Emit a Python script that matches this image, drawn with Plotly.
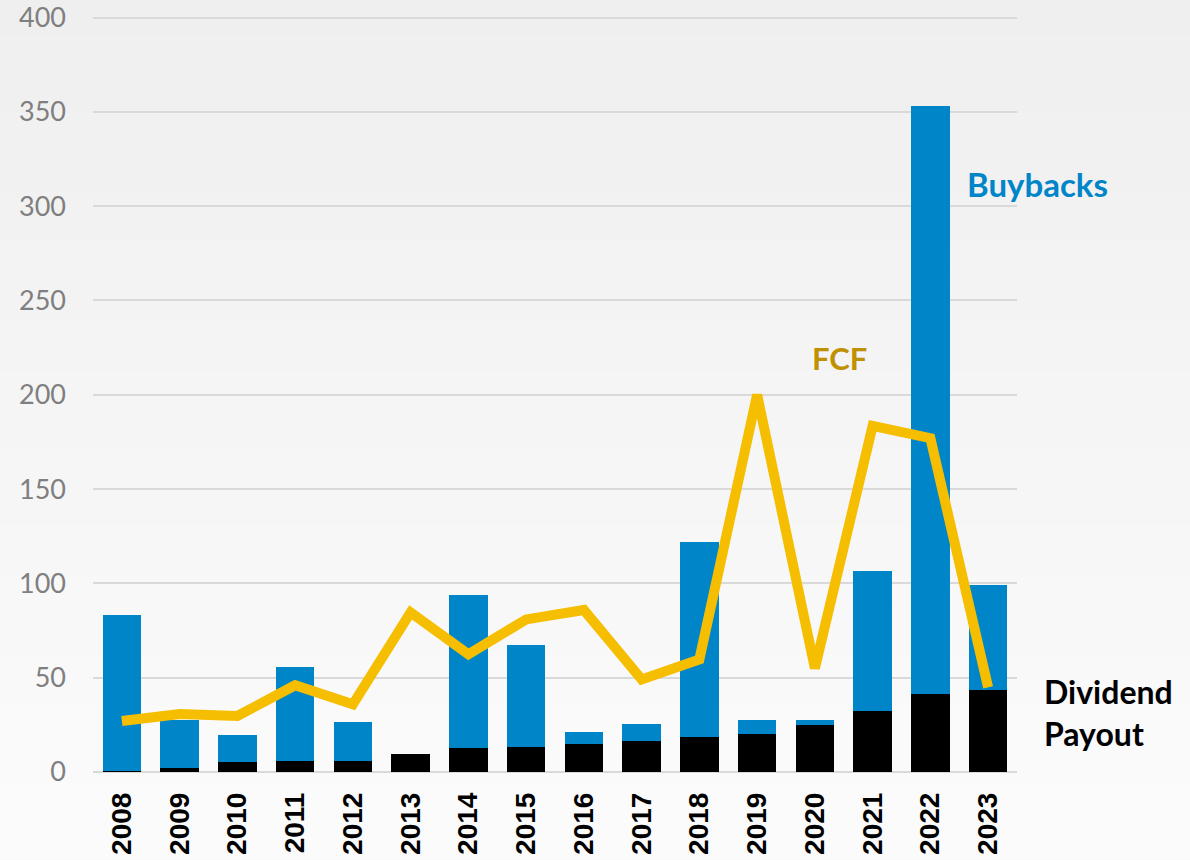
import plotly.graph_objects as go

# Annual cash returned to shareholders vs free cash flow
years = ["2008", "2009", "2010", "2011", "2012", "2013", "2014", "2015",
         "2016", "2017", "2018", "2019", "2020", "2021", "2022", "2023"]
dividends = [0.6, 2.3, 5.5, 5.7, 5.7, 9.4, 12.9, 13.5,
             14.9, 16.4, 18.5, 20.1, 24.7, 32.5, 41.2, 43.6]
buybacks = [82.4, 25.3, 13.9, 49.9, 20.6, 0.0, 81.1, 53.8,
            6.3, 9.2, 103.4, 7.5, 2.9, 74.0, 311.8, 55.5]
fcf = [27.0, 30.7, 29.7, 46.0, 35.9, 84.6, 62.4, 80.9,
       85.9, 49.1, 59.7, 200.0, 55.0, 183.5, 177.0, 44.9]

y_ticks = [0, 50, 100, 150, 200, 250, 300, 350, 400]

BLUE = "#0085c8"
GOLD = "#f6be00"
FCF_TEXT = "#bf9000"
GRID = "#d9d9d9"

fig = go.Figure()
fig.add_trace(go.Bar(x=years, y=dividends, name="Dividend Payout",
                     marker=dict(color="#000000", line=dict(width=0))))
fig.add_trace(go.Bar(x=years, y=buybacks, name="Buybacks",
                     marker=dict(color=BLUE, line=dict(width=0))))
fig.add_trace(go.Scatter(x=years, y=fcf, name="FCF", mode="lines",
                         line=dict(color=GOLD, width=10)))

# soft vertical background shading, darker at the top
shapes = []
n_bands = 40
for i in range(n_bands):
    t = i / (n_bands - 1)
    v = int(round(238 + (253 - 238) * t))
    shapes.append(dict(type="rect", xref="paper", yref="paper", layer="below",
                       x0=-0.2, x1=1.3, y0=1.1 - (i + 1) * 1.35 / n_bands,
                       y1=1.1 - i * 1.35 / n_bands,
                       fillcolor=f"rgb({v},{v},{v})", line=dict(width=0)))

W, H = 1190, 860
ml, mr, mt, mb = 93, 173, 10, 88
pw = W - ml - mr


def px_to_paper(px):
    return (px - ml) / pw


annotations = [
    dict(text="<b>Buybacks</b>", x=px_to_paper(965), y=312, xref="paper", yref="y",
         xanchor="left", yanchor="middle", showarrow=False,
         font=dict(family="Lato", size=33, color=BLUE)),
    dict(text="<b>FCF</b>", x=px_to_paper(810), y=219.5, xref="paper", yref="y",
         xanchor="left", yanchor="middle", showarrow=False,
         font=dict(family="Lato", size=31, color=FCF_TEXT)),
    dict(text="<b>Dividend<br>Payout</b>", x=px_to_paper(1042), y=31.6, xref="paper", yref="y",
         xanchor="left", yanchor="middle", align="left", showarrow=False,
         font=dict(family="Lato", size=32, color="#000000")),
]

fig.update_layout(
    width=W, height=H,
    margin=dict(l=ml, r=mr, t=mt, b=mb, autoexpand=False),
    barmode="stack", bargap=0.334,
    showlegend=False,
    paper_bgcolor="#f6f6f6",
    plot_bgcolor="rgba(0,0,0,0)",
    shapes=shapes,
    annotations=annotations,
)
fig.update_xaxes(
    tickangle=-90, showgrid=False, showline=False, ticks="",
    tickfont=dict(family="Liberation Sans", size=28, color="#000000", weight="bold"),
    ticklabelstandoff=14, automargin=False,
)
fig.update_yaxes(
    range=[0, 404], tickvals=y_ticks, showgrid=True, gridcolor=GRID, gridwidth=1.5,
    zeroline=True, zerolinecolor=GRID, zerolinewidth=1.5, showline=False, ticks="",
    tickfont=dict(family="Lato", size=27, color="#7f7f7f"),
    ticklabelstandoff=26, ticklabeloverflow="allow", automargin=False,
)

fig.write_html("out.html")
